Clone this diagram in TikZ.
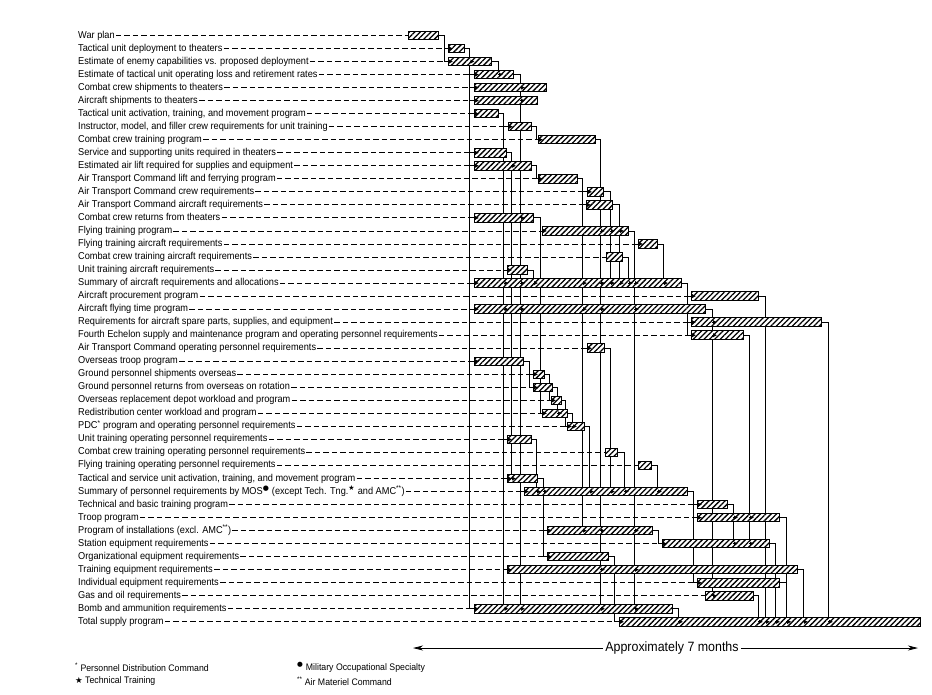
\documentclass[tikz,border=0pt]{standalone}
\usepackage{fontspec}
\setmainfont{Liberation Sans}[FakeStretch=0.92]
\newfontfamily\dvsans{DejaVu Sans}
\usetikzlibrary{arrows.meta,patterns.meta}

\pgfdeclarelayer{back}
\pgfsetlayers{back,main}

\tikzset{
  lbl/.style={anchor=west, inner sep=1pt, text height=7pt, text depth=2pt,
    font=\fontsize{10}{10}\selectfont},
  bar/.style={draw, line width=1pt, minimum height=8.5pt, inner sep=0pt, anchor=west,
    preaction={fill=white}, pattern={Lines[angle=45,distance=3.8pt,line width=1.3pt]}},
  leader/.style={line width=0.9pt, dash pattern=on 5.5pt off 3pt},
  link/.style={line width=0.9pt},
  entry/.style={line width=0.9pt, -{Latex[length=4pt,width=4.5pt]}},
  note/.style={anchor=west, inner sep=0pt, font=\fontsize{9.5}{10}\selectfont},
  span/.style={line width=0.8pt, -{Stealth[length=10pt,width=5pt,inset=3pt]}}
}

\begin{document}
\begin{tikzpicture}[x=1pt,y=-1pt]
\useasboundingbox (0,0) rectangle (932,694);

% activities: row / start / end / label
\foreach \i/\a/\b/\t in {
  1/408/438/{War plan},
  2/448/464/{Tactical unit deployment to theaters},
  3/448/491/{Estimate of enemy capabilities vs. proposed deployment},
  4/474/513/{Estimate of tactical unit operating loss and retirement rates},
  5/474/546/{Combat crew shipments to theaters},
  6/474/537/{Aircraft shipments to theaters},
  7/474/498/{Tactical unit activation, training, and movement program},
  8/508/531/{Instructor, model, and filler crew requirements for unit training},
  9/538/595/{Combat crew training program},
  10/474/506/{Service and supporting units required in theaters},
  11/474/531/{Estimated air lift required for supplies and equipment},
  12/538/577/{Air Transport Command lift and ferrying program},
  13/587/603/{Air Transport Command crew requirements},
  14/586/612/{Air Transport Command aircraft requirements},
  15/474/533/{Combat crew returns from theaters},
  16/542/628/{Flying training program},
  17/638/657/{Flying training aircraft requirements},
  18/606/622/{Combat crew training aircraft requirements},
  19/507/527/{Unit training aircraft requirements},
  20/474/681/{Summary of aircraft requirements and allocations},
  21/691/758/{Aircraft procurement program},
  22/474/705/{Aircraft flying time program},
  23/691/821/{Requirements for aircraft spare parts, supplies, and equipment},
  24/691/743/{Fourth Echelon supply and maintenance program and operating personnel requirements},
  25/587/604/{Air Transport Command operating personnel requirements},
  26/474/523/{Overseas troop program},
  27/533/544/{Ground personnel shipments overseas},
  28/533/552/{Ground personnel returns from overseas on rotation},
  29/551/561/{Overseas replacement depot workload and program},
  30/542/567/{Redistribution center workload and program},
  31/567/584/{PDC\textsuperscript{*} program and operating personnel requirements},
  32/507/531/{Unit training operating personnel requirements},
  33/605/617/{Combat crew training operating personnel requirements},
  34/638/651/{Flying training operating personnel requirements},
  35/507/537/{Tactical and service unit activation, training, and movement program},
  36/524/687/{Summary of personnel requirements by MOS\textsuperscript{\dvsans ●} (except Tech. Tng.\textsuperscript{\dvsans ★} and AMC\textsuperscript{**})},
  37/697/727/{Technical and basic training program},
  38/697/779/{Troop program},
  39/547/652/{Program of installations (excl. AMC\textsuperscript{**})},
  40/662/769/{Station equipment requirements},
  41/547/608/{Organizational equipment requirements},
  42/507/797/{Training equipment requirements},
  43/697/779/{Individual equipment requirements},
  44/705/753/{Gas and oil requirements},
  45/474/672/{Bomb and ammunition requirements},
  46/619/920/{Total supply program}} {
  \pgfmathsetmacro{\yy}{35.5+(\i-1)*13.03}
  \node[lbl] (l\i) at (77,\yy) {\t};
  \node[bar, minimum width={(\b-\a)*1pt}] (b\i) at (\a,\yy) {};
  \draw[leader] (l\i.east) -- (b\i.west);
}

% dependency lines: from bar / stub / down to bar
\begin{pgfonlayer}{back}
\foreach \s/\d/\e in {1/5/3, 2/4.5/45, 3/6/4, 4/6/45, 7/4.5/45, 10/4/35, 8/4/9,
    11/4/12, 9/4/45, 12/4/39, 13/6/20, 14/6/20, 15/6/30, 16/5/45, 17/5/20,
    18/5/20, 19/5/20, 20/5/24, 22/6/44, 24/5/40, 21/6/46, 23/6/46, 25/5/36,
    26/5/28, 27/4/29, 28/4/30, 29/3/31, 30/4/31, 31/4/36, 32/4/36, 33/6/36,
    34/5/36, 35/5/41, 36/5/43, 37/5/40, 39/5/40, 40/5/46, 38/6/46, 43/6/46,
    42/5/46, 44/4/46, 45/5/46, 41/5/46} {
  \draw[link] (b\s.east) -- ++(\d,0) coordinate (k\s) -- (k\s |- b\e.center);
}
\end{pgfonlayer}

% entries at the left end of a bar
\foreach \s/\t in {1/2, 1/3, 2/4, 2/5, 2/6, 2/7, 2/10, 2/11, 2/15, 2/20, 2/22,
    2/26, 2/45, 7/8, 7/19, 7/32, 7/35, 7/42, 8/9, 11/12, 12/13, 12/14, 12/25,
    15/16, 15/30, 16/17, 20/21, 20/23, 20/24, 26/27, 26/28, 27/29, 29/31, 4/36,
    35/39, 35/41, 36/37, 36/38, 36/43, 39/40, 41/46} {
  \draw[entry] (k\s |- b\t.west) -- ([xshift=5pt]b\t.west);
}

% entries from above, inside a bar
\foreach \s/\t in {2/3, 3/4, 4/5, 4/6, 4/15, 4/20, 4/22, 4/45, 7/20, 7/22, 7/45,
    10/11, 10/35, 9/16, 9/20, 9/22, 9/39, 9/42, 9/45, 12/20, 12/22, 12/39,
    13/16, 13/20, 14/16, 14/20, 16/20, 16/22, 16/39, 16/42, 16/45, 17/20,
    18/20, 19/20, 22/23, 22/24, 22/44, 24/38, 24/40, 25/36, 28/30, 30/31,
    31/36, 32/36, 33/36, 34/36, 35/36, 37/38, 37/40, 21/46, 23/46, 40/46,
    38/46, 43/46, 42/46, 44/46, 45/46} {
  \draw[entry] (k\s |- b\t.center) -- ++(5,0);
}

% time span
\node[fill=white, inner sep=2pt, font=\fontsize{13.5}{14}\selectfont] (months) at (672,648) {Approximately 7 months};
\coordinate (spanL) at (413,648);
\coordinate (spanR) at (918,648);
\draw[span] (months.west) -- (spanL);
\draw[span] (months.east) -- (spanR);

% footnotes
\node[note] (fnA) at (75,667) {\textsuperscript{*} Personnel Distribution Command};
\node[note] (fnB) at (75,681) {{\dvsans\fontsize{8.5}{8}\selectfont ★} Technical Training};
\node[note] (fnC) at (297,667) {\textsuperscript{\dvsans ●} Military Occupational Specialty};
\node[note] (fnD) at (297,681) {\textsuperscript{**} Air Materiel Command};
\end{tikzpicture}
\end{document}
